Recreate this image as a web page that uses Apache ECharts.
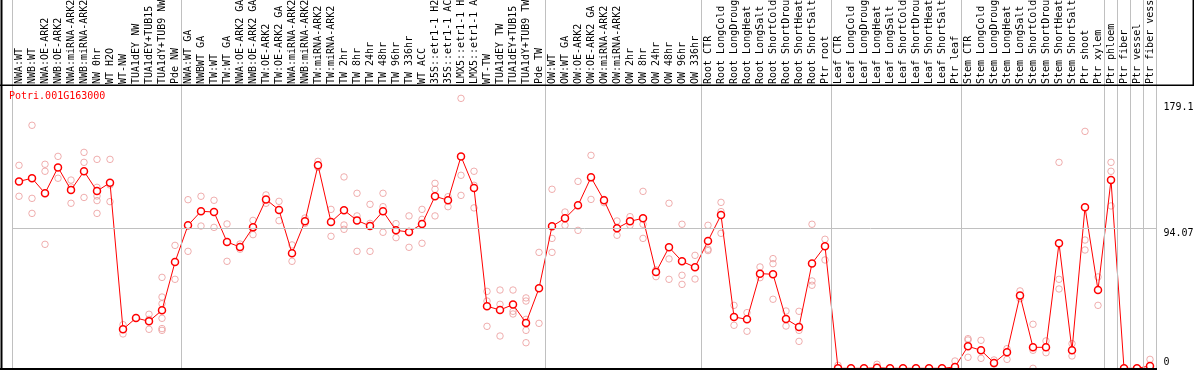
<!DOCTYPE html>
<html><head><meta charset="utf-8">
<script src="https://cdn.jsdelivr.net/npm/echarts@6/dist/echarts.min.js"></script>
<style>html,body{margin:0;padding:0;background:#fff}#c{width:1194px;height:370px}</style>
</head><body><div id="c"></div>
<script>
const gene = 'Potri.001G163000';
const categories = [
 'NWA:WT','NWB:WT','NWA:OE-ARK2','NWB:OE-ARK2','NWA:miRNA-ARK2','NWB:miRNA-ARK2','NW 0hr','WT H2O','WT-NW','TUA1dEY NW','TUA1dEY+TUB15 NW','TUA1dY+TUB9 NW','Pde NW',
 'NWA:WT GA','NWBWT GA','TW:WT','TW:WT GA','NWA:OE-ARK2 GA','NWB:OE-ARK2 GA','TW:OE-ARK2','TW:OE-ARK2 GA','NWA:miRNA-ARK2 GA','NWB:miRNA-ARK2 GA','TW:miRNA-ARK2','TW:miRNA-ARK2 GA',
 'TW 2hr','TW 8hr','TW 24hr','TW 48hr','TW 96hr','TW 336hr','WT ACC','35S::etr1-1 H2O','35S::etr1-1 ACC','LMX5::etr1-1 H2O','LMX5::etr1-1 ACC','WT-TW','TUA1dEY TW','TUA1dEY+TUB15 TW','TUA1dY+TUB9 TW','Pde TW',
 'OW:WT','OW:WT GA','OW:OE-ARK2','OW:OE-ARK2 GA','OW:miRNA-ARK2','OW:miRNA-ARK2 GA','OW 2hr','OW 8hr','OW 24hr','OW 48hr','OW 96hr','OW 336hr',
 'Root CTR','Root LongCold','Root LongDrought','Root LongHeat','Root LongSalt','Root ShortCold','Root ShortDrought','Root ShortHeat','Root ShortSalt','Ptr root',
 'Leaf CTR','Leaf LongCold','Leaf LongDrought','Leaf LongHeat','Leaf LongSalt','Leaf ShortCold','Leaf ShortDrought','Leaf ShortHeat','Leaf ShortSalt','Ptr leaf',
 'Stem CTR','Stem LongCold','Stem LongDrought','Stem LongHeat','Stem LongSalt','Stem ShortCold','Stem ShortDrought','Stem ShortHeat','Stem ShortSalt','Ptr shoot','Ptr xylem',
 'Ptr phloem','Ptr fiber','Ptr vessel','Ptr fiber vessel'
];
const means = [
 125.6,127.7,117.6,135.0,119.8,132.4,119.1,124.7,26.2,33.8,31.6,39.0,71.4,
 96.1,105.5,105.0,84.9,81.5,94.7,113.5,106.4,77.3,98.8,136.4,98.3,106.2,99.4,95.6,105.5,92.7,91.6,97.0,115.6,112.9,142.4,121.2,41.7,39.2,42.8,30.5,53.8,
 95.4,100.8,109.5,128.3,112.9,94.1,98.8,100.8,64.7,81.3,71.9,67.9,
 85.6,103.0,34.5,32.9,63.6,63.2,33.1,27.8,70.5,82.0,
 0,0,0,0.4,0,0,0,0,0,0.9,
 14.8,12.1,3.6,10.8,49.0,14.1,14.1,84.0,12.1,108.2,52.6,
 126.5,0,0,1.6
];
const replicates = [
 [136.4,125.6,115.6],[163.3,114.2,104.1],[137.1,132.4,83.3],[142.4,135.0,127.7],[126.5,121.8,110.9],[145.1,138.4,114.8],
 [140.4,121.6,115.8,112.7,104.1],[140.4,123.2,112.0],[29.3,23.1],[33.8],[36.3,32.9,26.2],[61.1,47.9,43.4,33.6,26.7,25.5],[82.6,59.8],
 [113.3,78.6],[115.6,95.6],[112.9,94.7],[97.0,71.9],[83.5,80.0],[99.4,89.8],[116.5,110.9],[112.2,99.2],[82.9,71.9],[101.0,97.4],
 [139.1,135.0],[106.8,88.7],[128.6,96.3,93.4],[117.6,102.4,78.6],[110.2,97.4,78.6],[117.6,108.6,91.4],[97.2,87.8],[102.4,81.3],
 [106.8,100.1,84.0],[124.3,120.3,102.4],[115.3,108.6],[181.4,129.7,116.2],[132.4,123.0,107.8],[51.7,45.2,28.2],[52.6,43.0,21.7],
 [52.6,38.3,36.5],[47.3,45.2,32.9,25.5,17.2],[77.9,30.2],
 [120.3,87.3,77.9],[105.0,96.1],[125.6,92.7],[143.1,113.5],[113.5,111.3],[99.0,89.4],[101.9,96.1],[118.9,96.8,87.3],[66.1,61.6],
 [110.9,73.5,59.8],[96.8,62.5,56.4],[75.9,60.0],
 [96.1,80.0,79.1],[111.5,105.3,90.7],[42.3,28.9],[37.4,24.9],[68.1,60.9],[73.7,70.3,46.4],[38.5,28.4],[38.3,25.5,18.1],[96.8,58.7,55.8],[86.7,72.8],
 [2.0],[0],[0],[2.7],[0],[0],[0],[0],[0],[4.9],
 [19.9,19.0,7.4],[18.8,6.7],[5.6,2.9],[13.2,6.0],[52.0,46.8],[29.6,12.1,0],[18.4,10.5],[138.4,59.8,53.3],[16.6,8.3],[159.2,86.2,79.5],[61.4,42.3],
 [138.4,132.4,109.1],[0],[0],[6.0]
];
const groupBreaks = [0,13,41,53,63,73,84,85,86,87,88];
const yTicks = [0, 94.07, 179.1];
const yGridValue = 94.07;
const yMax = 189.7;

const repPoints = [];
replicates.forEach((r,i)=>r.forEach(v=>repPoints.push([i,v])));

const MONO = 'DejaVu Sans Mono';
const GRID = '#c0c0c0';
const chart = echarts.init(document.getElementById('c'), null, {renderer:'canvas'});
chart.setOption({
  animation:false,
  title:{text:gene,left:9,top:91,padding:0,textStyle:{color:'#ff0000',fontSize:10,fontFamily:MONO,fontWeight:'normal'}},
  grid:[
    {left:12.5,right:37.5,top:86,bottom:1.7,containLabel:false,outerBoundsMode:'none'},
    {left:12.5,right:37.5,top:0,bottom:1.7,containLabel:false,outerBoundsMode:'none'}
  ],
  xAxis:[
    {type:'category',data:categories,position:'top',gridIndex:0,boundaryGap:true,
     axisLine:{show:false},axisTick:{show:false},splitLine:{show:false},
     axisLabel:{interval:0,rotate:90,margin:2,fontFamily:MONO,fontSize:10,color:'#000'}},
    {type:'value',gridIndex:1,min:0,max:categories.length,show:false}
  ],
  yAxis:[
    {type:'value',gridIndex:0,min:0,max:yMax,show:false},
    {type:'value',gridIndex:1,min:0,max:1,show:false}
  ],
  series:[
    {type:'line',xAxisIndex:1,yAxisIndex:1,data:[],silent:true,z:1,
     markLine:{silent:true,symbol:'none',label:{show:false},animation:false,
       lineStyle:{color:GRID,width:1,type:'solid'},
       data:groupBreaks.map(b=>({xAxis:b}))}},
    {type:'line',xAxisIndex:0,yAxisIndex:0,data:[],silent:true,z:1,
     markLine:{silent:true,symbol:'none',animation:false,
       data:yTicks.map(v=>({yAxis:v,
         lineStyle:{color:v===yGridValue?GRID:'rgba(0,0,0,0)',width:1,type:'solid'},
         label:{show:true,position:'end',distance:7,
                formatter:v===0?String(v)+'\n':'\n'+String(v),
                color:'#000',fontFamily:MONO,fontSize:10,lineHeight:11}}))}},
    {type:'scatter',data:repPoints,symbol:'circle',symbolSize:6.5,silent:true,z:2,
     itemStyle:{color:'rgba(255,255,255,0)',borderColor:'#eb9a9a',borderWidth:1}},
    {type:'line',data:means,symbol:'circle',symbolSize:7,showAllSymbol:true,silent:true,z:3,
     lineStyle:{color:'#ff0000',width:1},
     itemStyle:{color:'#ffffff',borderColor:'#ff0000',borderWidth:1.5}}
  ],
  graphic:[
    {type:'line',silent:true,z:10,shape:{x1:1.5,y1:0,x2:1.5,y2:370},style:{stroke:'#000',lineWidth:2}},
    {type:'line',silent:true,z:10,shape:{x1:0,y1:85.3,x2:1194,y2:85.3},style:{stroke:'#000',lineWidth:1.5}},
    {type:'line',silent:true,z:10,shape:{x1:1193.3,y1:0,x2:1193.3,y2:86},style:{stroke:'#000',lineWidth:1.5}},
    {type:'line',silent:true,z:10,shape:{x1:0,y1:369,x2:1157,y2:369},style:{stroke:'#000',lineWidth:2}}
  ]
});
</script></body></html>
